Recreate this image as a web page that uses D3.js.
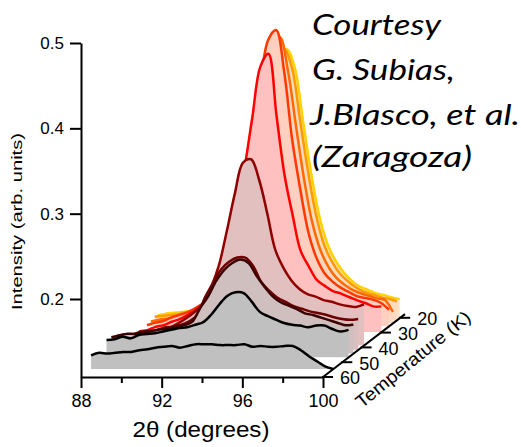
<!DOCTYPE html>
<html>
<head>
<meta charset="utf-8">
<script src="https://cdn.jsdelivr.net/npm/d3@7"></script>
<style>
  body { margin: 0; background: #fff; }
  svg { display: block; font-family: "Liberation Sans", Arial, sans-serif; }
</style>
</head>
<body>
<div id="chart"></div>
<script>
// 2theta grid (degrees), shared by all scans
var theta = [88.5, 88.9, 89.3, 89.7, 90.1, 90.5, 90.9, 91.3, 91.7, 92.1, 92.5, 92.9, 93.3, 93.7, 94.1,
             94.5, 94.9, 95.3, 95.7, 96.1, 96.5, 96.9, 97.3, 97.7, 98.1, 98.5, 98.9, 99.3, 99.7, 100.1, 100.5];

// temperature of each scan (K), front to back
var temps = [60, 52, 49.5, 47, 44, 35, 31, 29, 27, 25.5];

// intensities (arb. units), one array per scan
var s60 = [0.134,0.137,0.136,0.137,0.138,0.138,0.140,0.141,0.143,0.144,0.145,0.143,0.145,0.147,0.147,0.147,0.146,0.146,0.146,0.147,0.144,0.145,0.144,0.144,0.145,0.145,0.140,0.133,0.127,0.121,0.118];
var s52 = [0.138,0.139,0.142,0.140,0.144,0.145,0.146,0.148,0.150,0.152,0.153,0.156,0.159,0.168,0.180,0.190,0.194,0.193,0.183,0.171,0.166,0.162,0.158,0.156,0.155,0.153,0.155,0.155,0.151,0.148,0.150];
var s49 = [0.137,0.139,0.141,0.141,0.143,0.144,0.146,0.147,0.149,0.151,0.155,0.171,0.185,0.203,0.216,0.224,0.228,0.224,0.209,0.196,0.185,0.178,0.174,0.170,0.165,0.163,0.160,0.157,0.154,0.151,0.152];
var s47 = [0.134,0.136,0.136,0.139,0.140,0.141,0.144,0.145,0.147,0.151,0.158,0.179,0.196,0.212,0.221,0.226,0.226,0.216,0.197,0.187,0.179,0.174,0.169,0.166,0.163,0.161,0.159,0.156,0.154,0.153,0.154];
var s44 = [0.128,0.129,0.130,0.131,0.134,0.136,0.139,0.144,0.150,0.157,0.166,0.185,0.211,0.252,0.296,0.332,0.336,0.312,0.273,0.230,0.209,0.194,0.184,0.178,0.175,0.171,0.169,0.166,0.164,0.163,0.166];
var s35 = [0.119,0.120,0.124,0.126,0.130,0.133,0.138,0.144,0.152,0.160,0.175,0.205,0.259,0.308,0.369,0.429,0.444,0.372,0.302,0.255,0.213,0.195,0.179,0.172,0.166,0.163,0.159,0.155,0.152,0.148,0.148];
var s31 = [0.119,0.122,0.124,0.128,0.131,0.134,0.139,0.145,0.153,0.163,0.179,0.207,0.260,0.324,0.397,0.453,0.465,0.416,0.336,0.278,0.228,0.198,0.180,0.170,0.163,0.158,0.153,0.151,0.149,0.145,0.137];
var s29 = [0.120,0.122,0.123,0.124,0.126,0.129,0.132,0.137,0.143,0.152,0.169,0.198,0.251,0.321,0.391,0.438,0.453,0.413,0.348,0.286,0.236,0.204,0.184,0.171,0.163,0.157,0.153,0.150,0.147,0.145,0.131];
var s27 = [0.122,0.123,0.124,0.125,0.128,0.130,0.133,0.138,0.145,0.157,0.177,0.212,0.265,0.335,0.400,0.429,0.436,0.414,0.353,0.292,0.241,0.206,0.186,0.172,0.163,0.156,0.151,0.148,0.145,0.143,0.140];
var s25 = [0.121,0.123,0.124,0.125,0.126,0.128,0.132,0.137,0.142,0.154,0.174,0.209,0.262,0.332,0.397,0.426,0.433,0.411,0.350,0.289,0.239,0.206,0.186,0.172,0.162,0.155,0.151,0.147,0.145,0.142,0.140];

var scans = [s60, s52, s49, s47, s44, s35, s31, s29, s27, s25];
var baseline = 0.118;

var yTicks = [0.2, 0.3, 0.4, 0.5];
var xTicks = [88, 92, 96, 100];
var xMinor = [90, 94, 98];
var tTicks = [60, 50, 40, 30, 20];

var lineColors = ["#000000", "#000000", "#3c0000", "#6e0000", "#900000", "#ff0000", "#ff3800", "#ff6a00", "#ff9a00", "#ffd200"];
var fillColors = ["#c0c0c0", "#c0c0c0", "#cfbfbf", "#d9bfbf", "#e2c0c0", "#ffc0c0", "#ffcfc0", "#ffd6c0", "#ffdcc0", "#ffe0c0"];

var width = 521, height = 447;

var svg = d3.select("#chart")
    .append("svg")
    .attr("width", width)
    .attr("height", height);

var x = d3.scaleLinear().domain([88, 100]).range([81, 323]);
var y = d3.scaleLinear().domain([0.1086, 0.5]).range([377, 43]);
// waterfall offsets along the temperature axis
var tx = d3.scaleLinear().domain([60, 20]).range([0, 77.2]);
var ty = d3.scaleLinear().domain([60, 20]).range([0, -59.2]);

var traces = svg.append("g");

d3.range(scans.length).reverse().forEach(function (k) {
    var dx = tx(temps[k]), dy = ty(temps[k]);
    var pts = theta.map(function (t, i) { return [t, scans[k][i]]; });

    var area = d3.area()
        .curve(d3.curveCatmullRom)
        .x(function (d) { return x(d[0]) + dx; })
        .y0(y(baseline) + dy)
        .y1(function (d) { return y(d[1]) + dy; });

    traces.append("path")
        .attr("d", area(pts))
        .attr("fill", fillColors[k]);

    traces.append("path")
        .attr("d", area.lineY1()(pts))
        .attr("fill", "none")
        .attr("stroke", lineColors[k])
        .attr("stroke-width", 2.5)
        .attr("stroke-linejoin", "round");
});

// y axis
var yAxis = svg.append("g")
    .attr("transform", "translate(81,0)")
    .call(d3.axisLeft(y).tickValues(yTicks).tickSize(11).tickSizeOuter(0).tickPadding(6).tickFormat(d3.format(".1f")));

// x axis
var xAxis = svg.append("g")
    .attr("transform", "translate(0,377)")
    .call(d3.axisBottom(x).tickValues(xTicks).tickSize(11).tickSizeOuter(0).tickPadding(6));

svg.append("g")
    .attr("transform", "translate(0,377)")
    .call(d3.axisBottom(x).tickValues(xMinor).tickSize(6).tickSizeOuter(0).tickFormat(""))
    .select(".domain").remove();

svg.selectAll(".domain, .tick line")
    .attr("stroke", "#000")
    .attr("stroke-width", 2);

yAxis.selectAll("text").attr("font-size", 17).attr("fill", "#000").attr("font-family", "Liberation Sans, Arial");
xAxis.selectAll("text").attr("font-size", 18).attr("fill", "#000").attr("font-family", "Liberation Sans, Arial");

// temperature axis
var tAxis = svg.append("g");
var x0 = x(100), y0 = y(0.1086);

tAxis.append("line")
    .attr("x1", x0 + tx(60)).attr("y1", y0 + ty(60))
    .attr("x2", x0 + tx(17.5)).attr("y2", y0 + ty(17.5))
    .attr("stroke", "#000").attr("stroke-width", 2);

tAxis.selectAll(".ttick")
    .data(tTicks)
    .enter()
    .append("line")
    .attr("x1", function (d) { return x0 + tx(d) - 1; })
    .attr("x2", function (d) { return x0 + tx(d) + 10; })
    .attr("y1", function (d) { return y0 + ty(d); })
    .attr("y2", function (d) { return y0 + ty(d); })
    .attr("stroke", "#000").attr("stroke-width", 2);

tAxis.selectAll(".tlabel")
    .data(tTicks)
    .enter()
    .append("text")
    .attr("x", function (d) { return x0 + tx(d) + 17; })
    .attr("y", function (d) { return y0 + ty(d) + 1; })
    .attr("dy", "0.36em")
    .attr("font-size", 18)
    .text(function (d) { return d; });

svg.append("text")
    .attr("transform", "translate(417,364) rotate(-39)")
    .attr("text-anchor", "middle")
    .attr("font-size", 18)
    .attr("textLength", 142)
    .attr("lengthAdjust", "spacingAndGlyphs")
    .text("Temperature (K)");

// axis titles
svg.append("text")
    .attr("x", 201)
    .attr("y", 437)
    .attr("text-anchor", "middle")
    .attr("font-size", 22)
    .attr("textLength", 137)
    .attr("lengthAdjust", "spacingAndGlyphs")
    .text("2\u03b8 (degrees)");

svg.append("text")
    .attr("transform", "translate(22,221.5) rotate(-90)")
    .attr("text-anchor", "middle")
    .attr("font-size", 14)
    .attr("textLength", 177)
    .attr("lengthAdjust", "spacingAndGlyphs")
    .text("Intensity (arb. units)");

// credit note
var credit = [
    ["Courtesy", 312, 35, 129],
    ["G. Subias,", 312, 80, 143],
    ["J.Blasco, et al.", 310, 125, 210],
    ["(Zaragoza)", 312, 167, 160]
];

svg.selectAll(".credit")
    .data(credit)
    .enter()
    .append("text")
    .attr("x", function (d) { return d[1]; })
    .attr("y", function (d) { return d[2]; })
    .attr("font-family", "Lato, 'Open Sans', sans-serif")
    .attr("font-style", "italic")
    .attr("font-size", 29)
    .attr("textLength", function (d) { return d[3]; })
    .attr("lengthAdjust", "spacingAndGlyphs")
    .text(function (d) { return d[0]; });
</script>
</body>
</html>
